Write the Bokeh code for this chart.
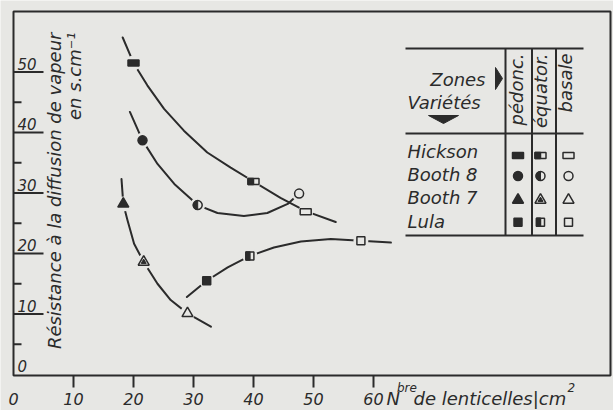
import math
from bokeh.plotting import figure
from bokeh.core.properties import value
from bokeh.embed import file_html
from bokeh.resources import INLINE

# ---------------- data ----------------
varieties = ["Hickson", "Booth 8", "Booth 7", "Lula"]
zones = ["pédonc.", "équator.", "basale"]

# measured points (pédonc., équator., basale)
hickson_x = [20.0, 40.0, 48.7]
hickson_y = [51.5, 31.9, 26.9]
booth8_x = [21.5, 30.7, 47.6]
booth8_y = [38.7, 28.0, 29.9]
booth7_x = [18.3, 21.7, 29.0]
booth7_y = [28.2, 18.6, 10.1]
lula_x = [32.2, 39.4, 57.9]
lula_y = [15.5, 19.6, 22.1]

# hand-drawn fitted curves
hickson_curve_x = [18.2, 20.0, 22.3, 25.1, 28.4, 32.3, 36.2, 40.0, 44.5, 48.7, 53.7]
hickson_curve_y = [55.7, 51.5, 47.8, 43.9, 40.3, 36.7, 34.2, 31.9, 29.2, 27.0, 25.2]
booth8_curve_x = [19.4, 21.5, 24.0, 26.8, 30.7, 34.0, 38.4, 42.3, 45.7, 47.6]
booth8_curve_y = [43.4, 38.7, 34.8, 31.5, 28.0, 26.7, 26.2, 26.7, 28.2, 29.9]
booth7_curve_x = [18.0, 18.3, 19.0, 20.1, 21.7, 24.0, 26.2, 29.0, 32.9]
booth7_curve_y = [32.3, 28.2, 25.5, 21.6, 18.6, 15.0, 12.3, 10.1, 7.9]
lula_curve_x = [28.9, 32.2, 35.7, 39.4, 43.4, 47.9, 52.9, 57.9, 62.9]
lula_curve_y = [12.8, 15.5, 17.7, 19.6, 21.0, 22.0, 22.4, 22.1, 21.8]

x_ticks = [10, 20, 30, 40, 50, 60]
x_tick_labels = [0, 10, 20, 30, 40, 50, 60]
y_ticks = [10, 20, 30, 40, 50]
y_minor_ticks = [5, 15, 25, 35, 45]
y_tick_labels = [0, 10, 20, 30, 40, 50]

# axis box extents (data units)
X_MIN, X_MAX = 0.0, 99.5
Y_MIN, Y_MAX = -0.17, 60.0

# ---------------- style ----------------
INK = "#2b2b2b"
BG = "#e7e7e4"
FONT = value("DejaVu Sans")
PXX = 6.0    # px per x unit
PXY = 6.05   # px per y unit
W, H = 613, 410
OX, OY = 13.0, 374.0   # page pixel of data origin


def dx(px):
    return (px - OX) / PXX


def dy(py):
    return (OY - py) / PXY


p = figure(width=W, height=H, x_range=(dx(0), dx(W)), y_range=(dy(H), dy(0)),
           output_backend="svg", toolbar_location=None,
           x_axis_type=None, y_axis_type=None, min_border=0)
p.background_fill_color = BG
p.border_fill_color = BG
p.outline_line_color = None
p.grid.visible = False

txt = dict(text_font=FONT, text_font_style="italic", text_color=INK, text_baseline="middle")

# axis box
p.quad(left=[X_MIN], right=[X_MAX], bottom=[Y_MIN], top=[Y_MAX],
       fill_color=None, line_color=INK, line_width=2)

# x ticks (outside, downward) and labels
p.segment(x0=x_ticks, y0=[Y_MIN] * len(x_ticks), x1=x_ticks,
          y1=[Y_MIN - 12 / PXY] * len(x_ticks), line_color=INK, line_width=2)
p.text(x=x_tick_labels, y=[dy(398)] * len(x_tick_labels), text=[str(v) for v in x_tick_labels],
       text_font_size="16px", text_align="center", **txt)

# y ticks (inside) and labels sitting on the long ticks
p.segment(x0=[X_MIN] * len(y_ticks), y0=y_ticks, x1=[X_MIN + 30 / PXX] * len(y_ticks),
          y1=y_ticks, line_color=INK, line_width=2)
p.segment(x0=[X_MIN] * len(y_minor_ticks), y0=y_minor_ticks,
          x1=[X_MIN + 8 / PXX] * len(y_minor_ticks), y1=y_minor_ticks,
          line_color=INK, line_width=2)
p.text(x=[X_MIN + 4 / PXX] * len(y_tick_labels), y=[v + 8.5 / PXY for v in y_tick_labels],
       text=[str(v) for v in y_tick_labels], text_font_size="15px",
       text_align="left", **txt)

# x axis title: Nbre de lenticelles|cm2
p.text(x=[dx(386), dx(413)], y=[dy(398)] * 2, text=["N", "de lenticelles|cm"],
       text_font_size="18px", text_align="left", **txt)
p.text(x=[dx(396.5), dx(567)], y=[dy(387)] * 2, text=["bre", "2"],
       text_font_size="12px", text_align="left", **txt)

# y axis title (rotated)
p.text(x=[dx(54), dx(73.5)], y=[dy(32)] * 2,
       text=["Résistance à la diffusion de vapeur", "en s.cm⁻¹"],
       angle=math.pi / 2, text_font_size="18px", text_align="right", **txt)

# ---------------- curves ----------------
for cx, cy in [(hickson_curve_x, hickson_curve_y), (booth8_curve_x, booth8_curve_y),
               (booth7_curve_x, booth7_curve_y), (lula_curve_x, lula_curve_y)]:
    p.line(cx, cy, line_width=2, line_color=INK, line_cap="round", line_join="round")

# halos (gaps of the curves around the points)
all_x = hickson_x + booth8_x + booth7_x + lula_x
all_y = hickson_y + booth8_y + booth7_y + lula_y
p.scatter(all_x, all_y, marker="circle", size=15, fill_color=BG, line_color=None)


def draw(kind, fill, xs, ys):
    fc = INK if fill == "full" else BG
    if kind in ("bar", "square"):
        w, h = (11, 6) if kind == "bar" else (8, 8)
        p.rect(xs, ys, width=w, height=h, width_units="screen", height_units="screen",
               fill_color=fc, line_color=INK, line_width=1.5)
        if fill == "half":
            p.rect([x - w / 4 / PXX for x in xs], ys, width=w / 2, height=h,
                   width_units="screen", height_units="screen",
                   fill_color=INK, line_color=INK, line_width=1.5)
    elif kind == "circle":
        p.scatter(xs, ys, marker="circle", size=9, fill_color=fc, line_color=INK, line_width=1.5)
        if fill == "half":
            p.wedge(xs, ys, radius=4.5, radius_units="screen", start_angle=math.pi / 2,
                    end_angle=3 * math.pi / 2, fill_color=INK, line_color=INK)
    elif kind == "triangle":
        p.scatter(xs, ys, marker="triangle", size=11, fill_color=fc, line_color=INK, line_width=1.5)
        if fill == "half":
            p.scatter(xs, ys, marker="triangle", size=5, fill_color=INK, line_color=INK)


kinds = ["bar", "circle", "triangle", "square"]
fills = ["full", "half", "open"]
series = [(hickson_x, hickson_y), (booth8_x, booth8_y), (booth7_x, booth7_y), (lula_x, lula_y)]
for kind, (sx, sy) in zip(kinds, series):
    for j, f in enumerate(fills):
        draw(kind, f, [sx[j]], [sy[j]])

# ---------------- legend table ----------------
tl, tr = dx(405), dx(583)
t_rows = [dy(48), dy(133), dy(235)]
col_lines = [dx(505), dx(531.5), dx(555.5)]
p.segment(x0=[tl] * 3, y0=t_rows, x1=[tr] * 3, y1=t_rows, line_color=INK, line_width=2)
p.segment(x0=col_lines, y0=[t_rows[0]] * 3, x1=col_lines, y1=[t_rows[2]] * 3,
          line_color=INK, line_width=2)

col_x = [dx(517.5), dx(540), dx(568)]
row_text_y = [dy(py) for py in (150.5, 173.8, 197.1, 220.5)]
row_mark_y = [dy(py) for py in (155, 175.5, 199.5, 221.7)]

p.text(x=[dx(407)] * 4, y=row_text_y, text=varieties, text_font_size="18px",
       text_align="left", **txt)
p.text(x=[dx(485)], y=[dy(79)], text=["Zones"], text_font_size="18px",
       text_align="right", **txt)
p.text(x=[dx(407)], y=[dy(102)], text=["Variétés"], text_font_size="18px",
       text_align="left", **txt)
p.text(x=[dx(516), dx(540), dx(565)], y=[dy(53)] * 3, text=zones, angle=math.pi / 2,
       text_font_size="18px", text_align="right", **txt)

# arrows
ax0, ay0 = dx(495), dy(78)
p.patch([ax0, ax0 + 7 / PXX, ax0], [ay0 + 11 / PXY, ay0, ay0 - 11 / PXY], color=INK)
dx0, dy0 = dx(443), dy(115)
p.patch([dx0 - 15 / PXX, dx0 + 15 / PXX, dx0], [dy0, dy0, dy0 - 8 / PXY], color=INK)

for i, kind in enumerate(kinds):
    for j, f in enumerate(fills):
        draw(kind, f, [col_x[j]], [row_mark_y[i]])

open("out.html", "w").write(file_html(p, INLINE))
